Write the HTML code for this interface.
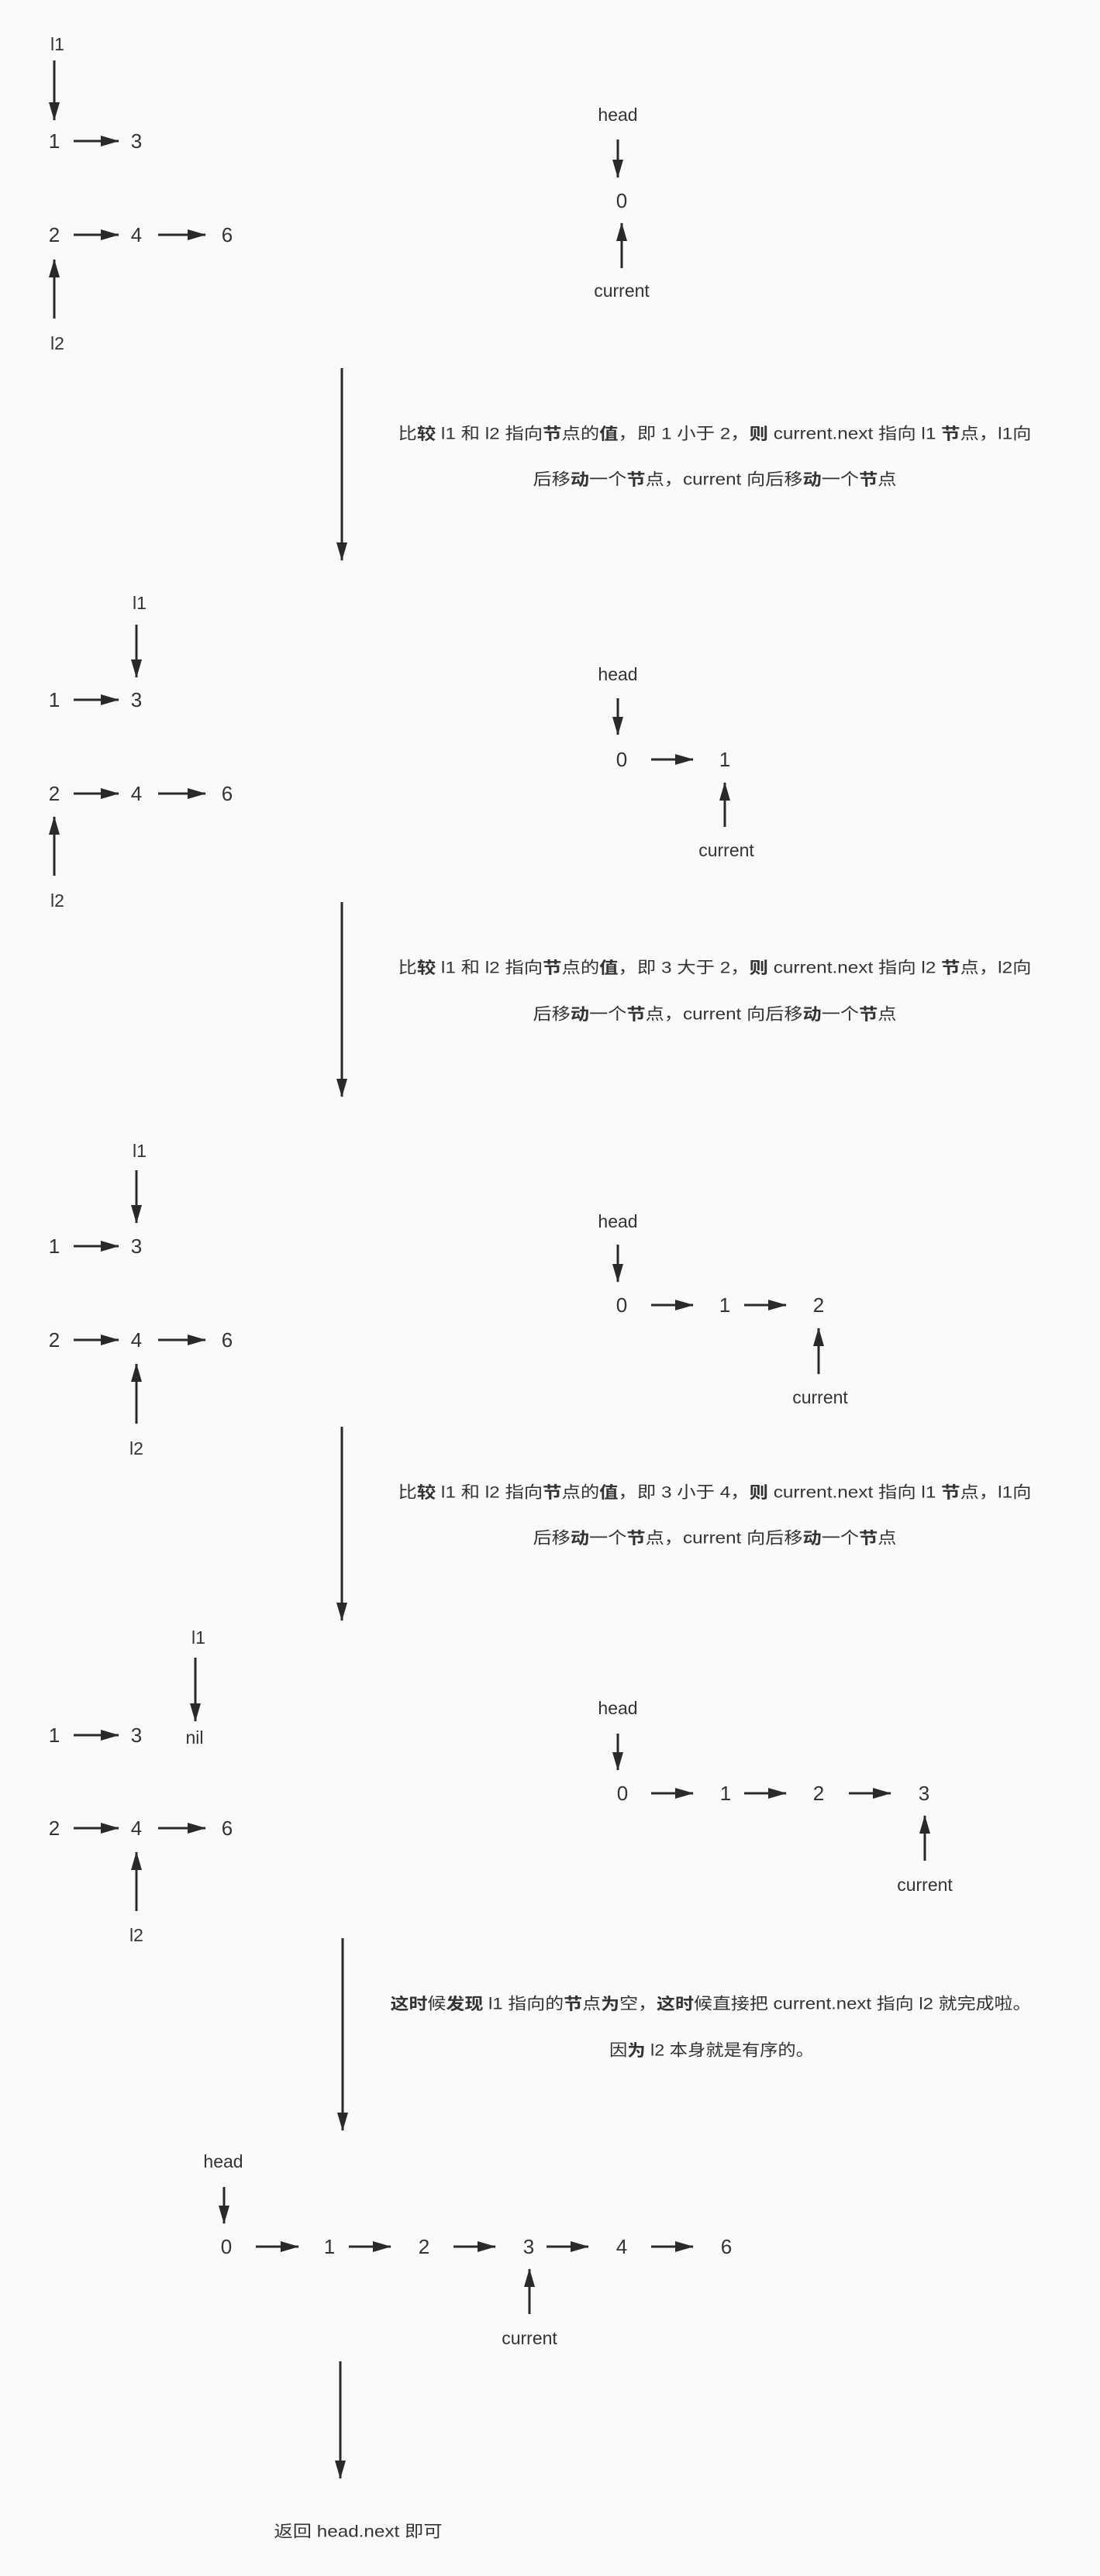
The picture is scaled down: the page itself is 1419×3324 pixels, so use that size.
<!DOCTYPE html>
<html><head><meta charset="utf-8"><style>
html,body{margin:0;padding:0;background:#fafafa;}
svg{display:block;}
text{font-family:"Liberation Sans","Noto Sans CJK SC",sans-serif;fill:#333;dominant-baseline:central;text-anchor:middle;}
.n{font-size:26px;}
.l{font-size:23px;}
.t{font-size:21px;}
</style></head><body>
<svg width="1419" height="3324" viewBox="0 0 1419 3324" xmlns="http://www.w3.org/2000/svg">
<defs>
<marker id="a" markerWidth="24" markerHeight="14" refX="23" refY="7" orient="auto" markerUnits="userSpaceOnUse">
<path d="M0,0 L24,7 L0,14 z" fill="#2a2a2a"/>
</marker>
</defs>
<g stroke="#2a2a2a" stroke-width="3" marker-end="url(#a)" fill="none">
<!-- S1 -->
<line x1="70" y1="78" x2="70" y2="155"/>
<line x1="95" y1="182" x2="153" y2="182"/>
<line x1="95" y1="303" x2="153" y2="303"/>
<line x1="204" y1="303" x2="265" y2="303"/>
<line x1="70" y1="411" x2="70" y2="335"/>
<line x1="797" y1="180" x2="797" y2="229"/>
<line x1="802" y1="346" x2="802" y2="288"/>
<line x1="441" y1="475" x2="441" y2="723"/>
<!-- S2 -->
<line x1="176" y1="806" x2="176" y2="874"/>
<line x1="95" y1="903" x2="153" y2="903"/>
<line x1="95" y1="1024" x2="153" y2="1024"/>
<line x1="204" y1="1024" x2="265" y2="1024"/>
<line x1="70" y1="1130" x2="70" y2="1054"/>
<line x1="797" y1="901" x2="797" y2="948"/>
<line x1="840" y1="980" x2="894" y2="980"/>
<line x1="935" y1="1067" x2="935" y2="1010"/>
<line x1="441" y1="1164" x2="441" y2="1415"/>
<!-- S3 -->
<line x1="176" y1="1510" x2="176" y2="1578"/>
<line x1="95" y1="1608" x2="153" y2="1608"/>
<line x1="95" y1="1729" x2="153" y2="1729"/>
<line x1="204" y1="1729" x2="265" y2="1729"/>
<line x1="176" y1="1837" x2="176" y2="1760"/>
<line x1="797" y1="1606" x2="797" y2="1654"/>
<line x1="840" y1="1684" x2="894" y2="1684"/>
<line x1="960" y1="1684" x2="1014" y2="1684"/>
<line x1="1056" y1="1773" x2="1056" y2="1714"/>
<line x1="441" y1="1841" x2="441" y2="2091"/>
<!-- S4 -->
<line x1="252" y1="2139" x2="252" y2="2221"/>
<line x1="95" y1="2239" x2="153" y2="2239"/>
<line x1="95" y1="2359" x2="153" y2="2359"/>
<line x1="204" y1="2359" x2="265" y2="2359"/>
<line x1="176" y1="2466" x2="176" y2="2390"/>
<line x1="797" y1="2237" x2="797" y2="2284"/>
<line x1="840" y1="2314" x2="894" y2="2314"/>
<line x1="960" y1="2314" x2="1014" y2="2314"/>
<line x1="1095" y1="2314" x2="1149" y2="2314"/>
<line x1="1193" y1="2401" x2="1193" y2="2343"/>
<line x1="442" y1="2501" x2="442" y2="2749"/>
<!-- S5 -->
<line x1="289" y1="2822" x2="289" y2="2869"/>
<line x1="330" y1="2899" x2="385" y2="2899"/>
<line x1="450" y1="2899" x2="504" y2="2899"/>
<line x1="585" y1="2899" x2="639" y2="2899"/>
<line x1="705" y1="2899" x2="759" y2="2899"/>
<line x1="840" y1="2899" x2="894" y2="2899"/>
<line x1="683" y1="2986" x2="683" y2="2928"/>
<line x1="439" y1="3047" x2="439" y2="3198"/>
</g>

<!-- S1 text -->
<text class="l" x="74" y="57">l1</text>
<text class="n" x="70" y="182">1</text><text class="n" x="176" y="182">3</text>
<text class="n" x="70" y="303">2</text><text class="n" x="176" y="303">4</text><text class="n" x="293" y="303">6</text>
<text class="l" x="74" y="443">l2</text>
<text class="l" x="797" y="148">head</text>
<text class="n" x="802" y="259">0</text>
<text class="l" x="802" y="375">current</text>
<text class="t" x="922" y="560" textLength="817" lengthAdjust="spacingAndGlyphs">比<tspan font-weight="bold">较</tspan> l1 和 l2 指向<tspan font-weight="bold">节</tspan>点的<tspan font-weight="bold">值</tspan>，即 1 小于 2，<tspan font-weight="bold">则</tspan> current.next 指向 l1 <tspan font-weight="bold">节</tspan>点，l1向</text>
<text class="t" x="922" y="619" textLength="469" lengthAdjust="spacingAndGlyphs">后移<tspan font-weight="bold">动</tspan>一个<tspan font-weight="bold">节</tspan>点，current 向后移<tspan font-weight="bold">动</tspan>一个<tspan font-weight="bold">节</tspan>点</text>

<!-- S2 text -->
<text class="l" x="180" y="778">l1</text>
<text class="n" x="70" y="903">1</text><text class="n" x="176" y="903">3</text>
<text class="n" x="70" y="1024">2</text><text class="n" x="176" y="1024">4</text><text class="n" x="293" y="1024">6</text>
<text class="l" x="74" y="1162">l2</text>
<text class="l" x="797" y="870">head</text>
<text class="n" x="802" y="980">0</text><text class="n" x="935" y="980">1</text>
<text class="l" x="937" y="1097">current</text>
<text class="t" x="922" y="1249" textLength="817" lengthAdjust="spacingAndGlyphs">比<tspan font-weight="bold">较</tspan> l1 和 l2 指向<tspan font-weight="bold">节</tspan>点的<tspan font-weight="bold">值</tspan>，即 3 大于 2，<tspan font-weight="bold">则</tspan> current.next 指向 l2 <tspan font-weight="bold">节</tspan>点，l2向</text>
<text class="t" x="922" y="1309" textLength="469" lengthAdjust="spacingAndGlyphs">后移<tspan font-weight="bold">动</tspan>一个<tspan font-weight="bold">节</tspan>点，current 向后移<tspan font-weight="bold">动</tspan>一个<tspan font-weight="bold">节</tspan>点</text>

<!-- S3 text -->
<text class="l" x="180" y="1485">l1</text>
<text class="n" x="70" y="1608">1</text><text class="n" x="176" y="1608">3</text>
<text class="n" x="70" y="1729">2</text><text class="n" x="176" y="1729">4</text><text class="n" x="293" y="1729">6</text>
<text class="l" x="176" y="1869">l2</text>
<text class="l" x="797" y="1576">head</text>
<text class="n" x="802" y="1684">0</text><text class="n" x="935" y="1684">1</text><text class="n" x="1056" y="1684">2</text>
<text class="l" x="1058" y="1803">current</text>
<text class="t" x="922" y="1926" textLength="817" lengthAdjust="spacingAndGlyphs">比<tspan font-weight="bold">较</tspan> l1 和 l2 指向<tspan font-weight="bold">节</tspan>点的<tspan font-weight="bold">值</tspan>，即 3 小于 4，<tspan font-weight="bold">则</tspan> current.next 指向 l1 <tspan font-weight="bold">节</tspan>点，l1向</text>
<text class="t" x="922" y="1985" textLength="469" lengthAdjust="spacingAndGlyphs">后移<tspan font-weight="bold">动</tspan>一个<tspan font-weight="bold">节</tspan>点，current 向后移<tspan font-weight="bold">动</tspan>一个<tspan font-weight="bold">节</tspan>点</text>

<!-- S4 text -->
<text class="l" x="256" y="2113">l1</text>
<text class="n" x="70" y="2239">1</text><text class="n" x="176" y="2239">3</text>
<text class="l" x="251" y="2242">nil</text>
<text class="n" x="70" y="2359">2</text><text class="n" x="176" y="2359">4</text><text class="n" x="293" y="2359">6</text>
<text class="l" x="176" y="2497">l2</text>
<text class="l" x="797" y="2204">head</text>
<text class="n" x="803" y="2314">0</text><text class="n" x="936" y="2314">1</text><text class="n" x="1056" y="2314">2</text><text class="n" x="1192" y="2314">3</text>
<text class="l" x="1193" y="2432">current</text>
<text class="t" x="917" y="2586" textLength="827" lengthAdjust="spacingAndGlyphs"><tspan font-weight="bold">这时</tspan>候<tspan font-weight="bold">发现</tspan> l1 指向的<tspan font-weight="bold">节</tspan>点<tspan font-weight="bold">为</tspan>空，<tspan font-weight="bold">这时</tspan>候直接把 current.next 指向 l2 就完成啦。</text>
<text class="t" x="918" y="2646" textLength="264" lengthAdjust="spacingAndGlyphs">因<tspan font-weight="bold">为</tspan> l2 本身就是有序的。</text>

<!-- S5 text -->
<text class="l" x="288" y="2789">head</text>
<text class="n" x="292" y="2899">0</text><text class="n" x="425" y="2899">1</text><text class="n" x="547" y="2899">2</text><text class="n" x="682" y="2899">3</text><text class="n" x="802" y="2899">4</text><text class="n" x="937" y="2899">6</text>
<text class="l" x="683" y="3017">current</text>
<text class="t" x="462" y="3267" textLength="217" lengthAdjust="spacingAndGlyphs">返回 head.next 即可</text>
</svg>
</body></html>
